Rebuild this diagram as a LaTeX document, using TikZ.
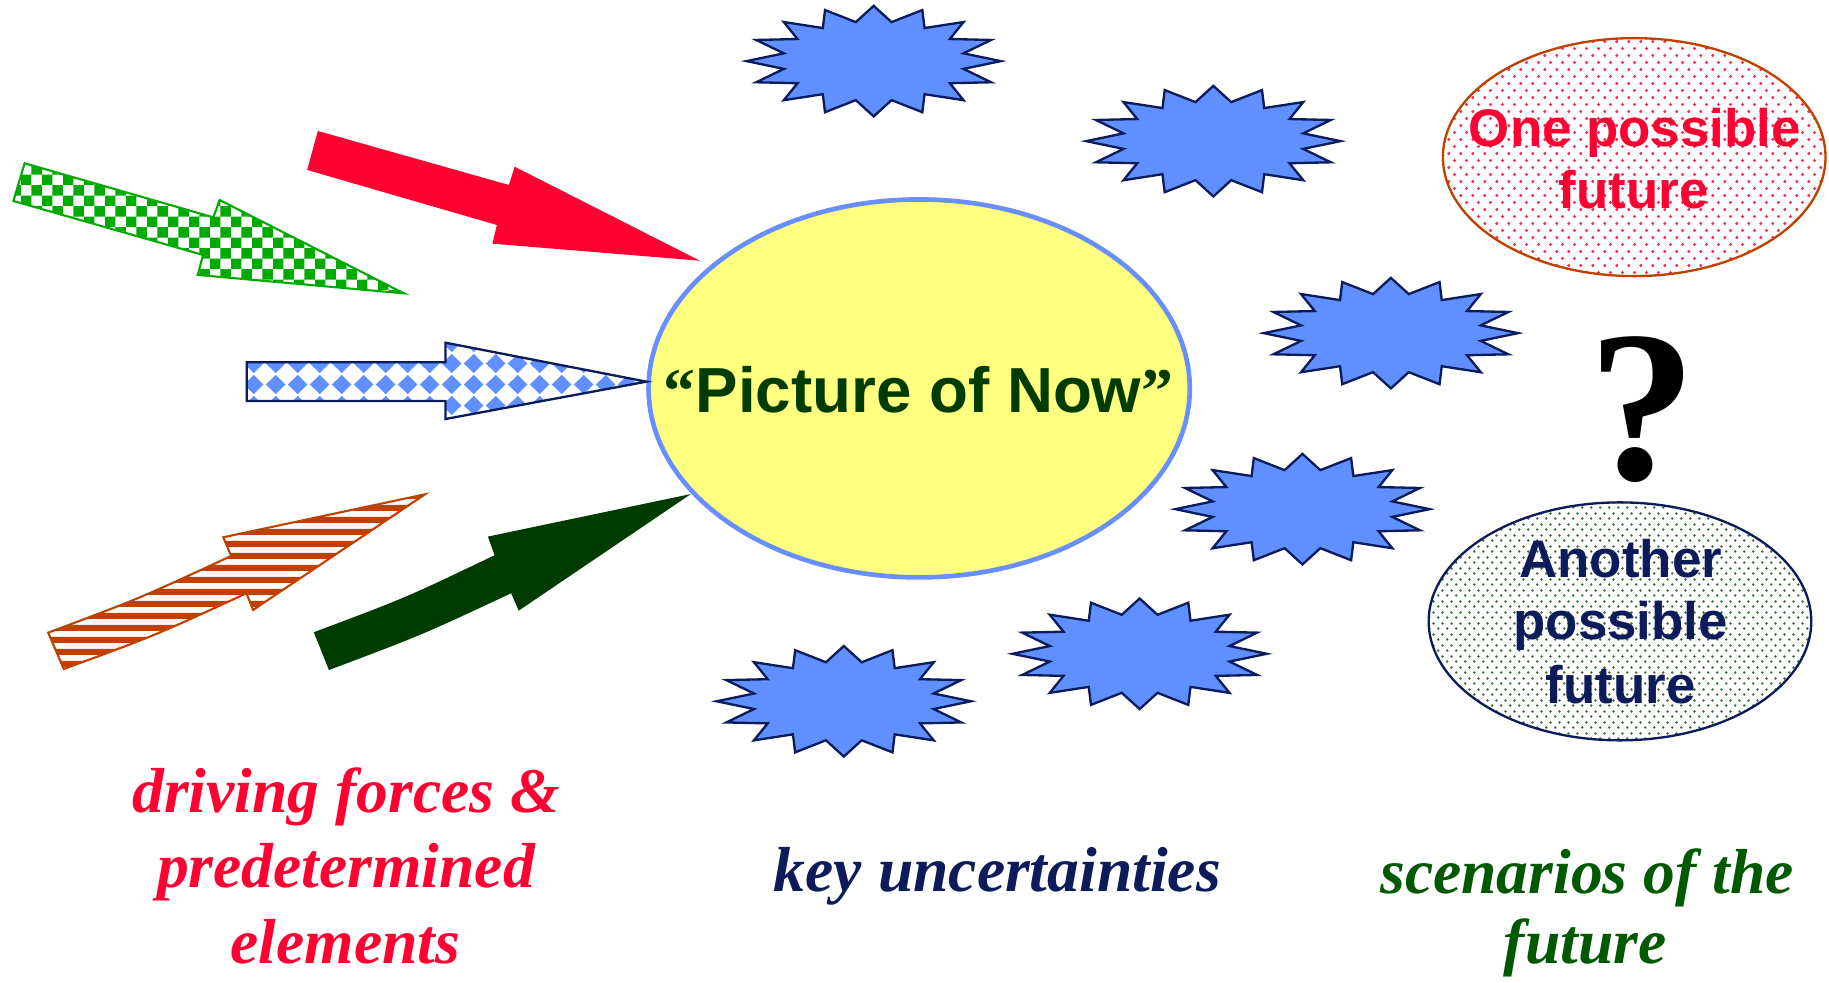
\documentclass[tikz,border=0pt]{standalone}
\usepackage{fontspec}
\setmainfont{Liberation Serif}
\newfontfamily\sansb{Liberation Sans}
\usetikzlibrary{shapes.geometric,patterns}

\definecolor{redc}{RGB}{255,0,51}
\definecolor{navy}{RGB}{12,28,90}
\definecolor{dgreen}{RGB}{0,60,0}
\definecolor{sgreen}{RGB}{0,88,0}
\definecolor{checkgreen}{RGB}{0,170,0}
\definecolor{brownc}{RGB}{192,64,0}
\definecolor{starblue}{RGB}{96,144,255}
\definecolor{nowblue}{RGB}{104,142,255}
\definecolor{nowyellow}{RGB}{255,255,128}
\definecolor{dotred}{RGB}{255,40,80}
\definecolor{dotgreen}{RGB}{60,110,60}

\pgfdeclarepatternformonly{checks}{\pgfqpoint{0pt}{0pt}}{\pgfqpoint{18pt}{18pt}}{\pgfqpoint{18pt}{18pt}}{%
  \pgfpathrectangle{\pgfqpoint{0pt}{0pt}}{\pgfqpoint{9pt}{9pt}}%
  \pgfpathrectangle{\pgfqpoint{9pt}{9pt}}{\pgfqpoint{9pt}{9pt}}%
  \pgfusepath{fill}}
\pgfdeclarepatternformonly{diamonds}{\pgfqpoint{0pt}{0pt}}{\pgfqpoint{19pt}{18pt}}{\pgfqpoint{19pt}{18pt}}{%
  \pgfpathmoveto{\pgfqpoint{9.5pt}{0.8pt}}\pgfpathlineto{\pgfqpoint{18.2pt}{9pt}}%
  \pgfpathlineto{\pgfqpoint{9.5pt}{17.2pt}}\pgfpathlineto{\pgfqpoint{0.8pt}{9pt}}%
  \pgfpathclose\pgfusepath{fill}}
\pgfdeclarepatternformonly{stripes}{\pgfqpoint{0pt}{0pt}}{\pgfqpoint{400pt}{10pt}}{\pgfqpoint{400pt}{10pt}}{%
  \pgfpathrectangle{\pgfqpoint{0pt}{0pt}}{\pgfqpoint{400pt}{5.5pt}}\pgfusepath{fill}}
\pgfdeclarepatternformonly{reddots}{\pgfqpoint{0pt}{0pt}}{\pgfqpoint{10pt}{12pt}}{\pgfqpoint{10pt}{12pt}}{%
  \pgfpathcircle{\pgfqpoint{2.5pt}{3pt}}{1.45pt}%
  \pgfpathcircle{\pgfqpoint{7.5pt}{9pt}}{1.45pt}\pgfusepath{fill}}
\pgfdeclarepatternformonly{greendots}{\pgfqpoint{0pt}{0pt}}{\pgfqpoint{8pt}{9pt}}{\pgfqpoint{8pt}{9pt}}{%
  \pgfpathcircle{\pgfqpoint{2pt}{2.25pt}}{1.25pt}%
  \pgfpathcircle{\pgfqpoint{6pt}{6.75pt}}{1.25pt}\pgfusepath{fill}}

\tikzset{
  burst/.style={fill=starblue, draw=navy, line width=2, line join=miter},
  lbl/.style={font=\fontsize{54.5}{64}\selectfont\bfseries\itshape, anchor=base, inner sep=0},
  futtext/.style={font=\sansb\fontsize{45.3}{53}\selectfont\bfseries, anchor=base, inner sep=0},
  futell/.style={ellipse, minimum width=328, minimum height=204, inner sep=0, line width=2},
}
\newcommand{\drawburst}[1]{%
  \draw[burst, shift={(#1)}] (0:109 and 47.4)
    \foreach [evaluate=\k as \rx using {mod(\k,2)==1 ? 78.5 : 109},
              evaluate=\k as \ry using {mod(\k,2)==1 ? 34.1 : 47.4}] \k in {1,...,31}
      { -- ({\k*11.25}:{\rx} and {\ry}) } -- cycle;}

\begin{document}
\begin{tikzpicture}[x=1pt,y=-1pt]
\useasboundingbox (0,0) rectangle (1568,842);

% central ellipse
\node[draw=nowblue, fill=nowyellow, line width=4, ellipse, minimum width=464, minimum height=324, inner sep=0] (now) at (788,333) {};
\node[anchor=base, inner sep=0, text=dgreen, font=\sansb\fontsize{54.6}{60}\selectfont\bfseries] (nowlbl) at (787.5,354)
  {{\rmfamily “}Picture of Now{\rmfamily ”}};

% driving-force arrows
\fill[redc] (272.5,112.3) -- (436.3,158.6) -- (441.2,142.9) -- (600,223.5) -- (422.1,208.9) -- (426,192.9) -- (263.3,145.7) -- cycle;
\draw[checkgreen, line width=1.8, pattern=checks, pattern color=checkgreen]
  (21.1,140) -- (182.9,186.3) -- (188.3,171.5) -- (346.3,251.5) -- (169.5,235.7) -- (174.1,218.6) -- (11.5,172.3) -- cycle;
\draw[navy, line width=2, pattern=diamonds, pattern color=starblue]
  (211.6,310.6) -- (381.9,310.6) -- (381.9,293.8) -- (554.2,327.2) -- (381.9,359.2) -- (381.9,343.8) -- (211.6,343.8) -- cycle;
\draw[brownc, line width=1.8, pattern=stripes, pattern color=brownc]
  (41.3,542.4) .. controls (120.9,512.5) .. (198.2,476.6) -- (191.4,460.6) -- (364.3,423.8) -- (217,522.9) -- (211.3,508.6)
  .. controls (134.2,544.3) .. (54.7,573.5) -- cycle;
\fill[dgreen]
  (269,542) .. controls (347.7,512.5) .. (424,476) -- (418.3,460) -- (592.4,423.5) -- (444.7,523.5) -- (438.2,508.6)
  .. controls (361.3,544.6) .. (282,574.4) -- cycle;

% key uncertainties
\coordinate (s1) at (749,52.4);
\coordinate (s2) at (1040.2,121);
\coordinate (s3) at (1192.4,285.6);
\coordinate (s4) at (1116.6,436.5);
\coordinate (s5) at (977,560.5);
\coordinate (s6) at (723.4,601.2);
\drawburst{s1}
\drawburst{s2}
\drawburst{s3}
\drawburst{s4}
\drawburst{s5}
\drawburst{s6}

% futures
\node[futell, draw=brownc, pattern=reddots, pattern color=dotred] (fut1) at (1401,134.7) {};
\node[futtext, text=redc] (f1a) at (1401.5,125.2) {One possible};
\node[futtext, text=redc] (f1b) at (1400.5,178.6) {future};

\node[font=\fontsize{185}{185}\selectfont\bfseries, anchor=base, inner sep=0] (qm) at (1408,411) {?};

\node[futell, draw=navy, pattern=greendots, pattern color=dotgreen] (fut2) at (1388.8,532.7) {};
\node[futtext, text=navy] (f2a) at (1389.5,494.9) {Another};
\node[futtext, text=navy] (f2b) at (1389.5,548) {possible};
\node[futtext, text=navy] (f2c) at (1389.5,603) {future};

% captions
\node[lbl, text=redc] (c1a) at (296.6,696.7) {driving forces \&};
\node[lbl, text=redc] (c1b) at (296.6,760.7) {predetermined};
\node[lbl, text=redc] (c1c) at (296,825.8) {elements};
\node[lbl, text=navy] (c2) at (855,764.4) {key uncertainties};
\node[lbl, text=sgreen] (c3a) at (1360.5,765.8) {scenarios of the};
\node[lbl, text=sgreen] (c3b) at (1359,826.4) {future};
\end{tikzpicture}
\end{document}
